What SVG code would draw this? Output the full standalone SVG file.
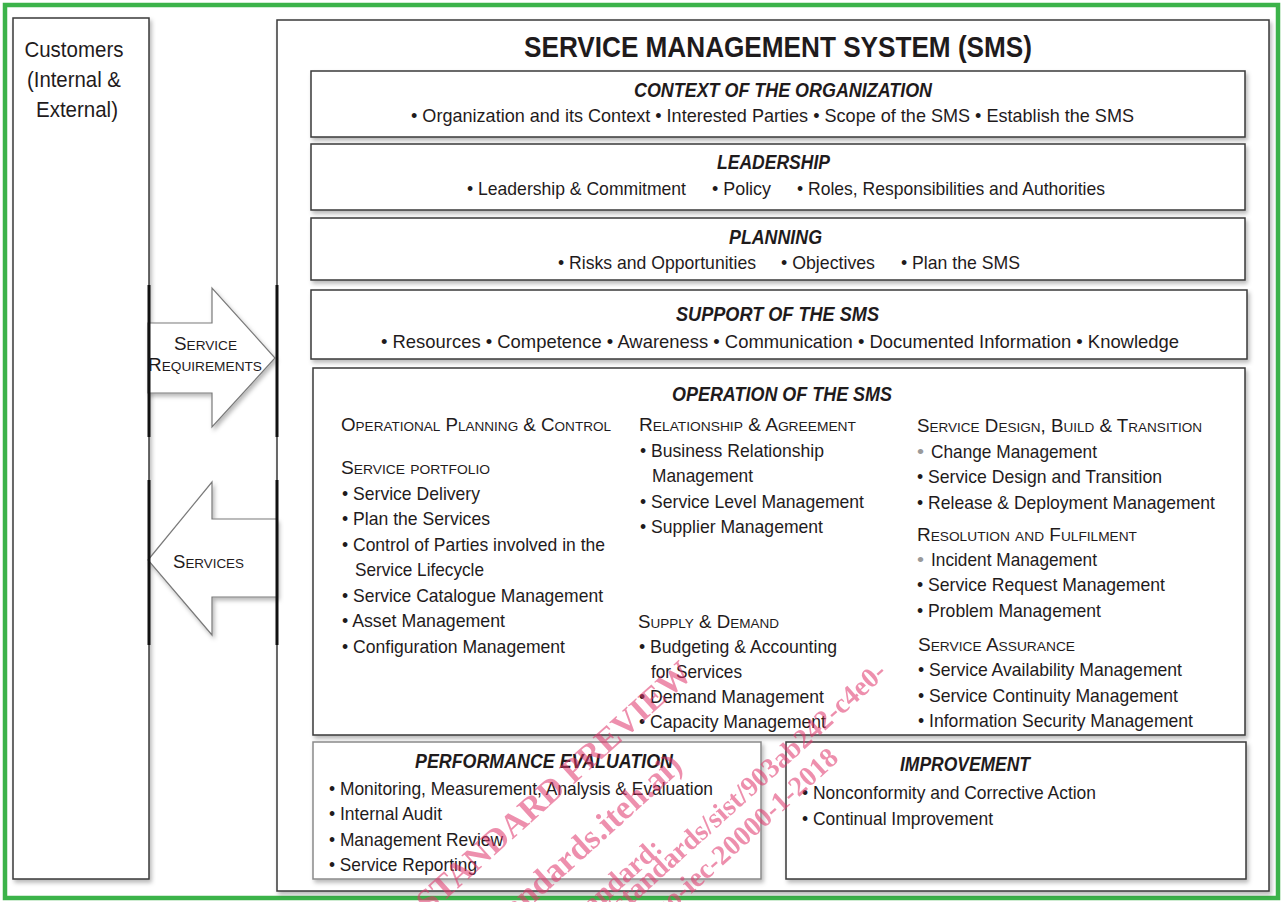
<svg xmlns="http://www.w3.org/2000/svg" width="1284" height="902" viewBox="0 0 1284 902">
  <defs>
    <filter id="sh" x="-5%" y="-5%" width="110%" height="115%">
      <feDropShadow dx="2" dy="3" stdDeviation="2" flood-color="#000" flood-opacity="0.28"/>
    </filter>
    <style>
      .t { font-family: "Liberation Sans", Arial, sans-serif; fill: #1f1b1c; }
      .b { font-size: 19px; }
      .hd { font-weight: bold; font-style: italic; font-size: 20px; }
      .sc { font-variant: small-caps; font-size: 18px; }
      .box { fill: #fff; stroke: #3a3a3a; stroke-width: 1.5; filter: url(#sh); }
      .box2 { fill: #fff; stroke: #8a8a8a; stroke-width: 1.5; filter: url(#sh); }
      .arrow { fill: #fff; stroke: #7a7a7a; stroke-width: 1.2; filter: url(#sh); }
      .bar { stroke: #111; stroke-width: 3; }
      .gb { fill: #9a9a9a; }
      .wm { font-family: "Liberation Serif", "Times New Roman", serif; font-weight: bold; font-size: 28px; fill: #e0356b; }
      .wm1 { font-size: 34px; }
    </style>
  </defs>

  <!-- outer frame -->
  <rect x="5" y="5" width="1273" height="893" fill="#fff" stroke="#3cb34a" stroke-width="4.5"/>

  <!-- customers -->
  <g id="customers">
    <rect class="box" x="13" y="18" width="136" height="861"/>
    <text class="t" font-size="22" text-anchor="middle">
      <tspan x="77" y="57" textLength="99" lengthAdjust="spacingAndGlyphs">Customers</tspan>
      <tspan x="77" y="87" textLength="94" lengthAdjust="spacingAndGlyphs">(Internal &amp;</tspan>
      <tspan x="77" y="117" textLength="82" lengthAdjust="spacingAndGlyphs">External)</tspan>
    </text>
  </g>

  <!-- service management system -->
  <g id="sms">
    <rect class="box" x="277" y="20" width="992" height="871"/>
    <text class="t" x="524" y="57" font-size="30" font-weight="bold" textLength="508" lengthAdjust="spacingAndGlyphs">SERVICE MANAGEMENT SYSTEM (SMS)</text>
  </g>

  <!-- flows between customers and SMS -->
  <g id="connectors">
    <polygon class="arrow" points="148,323 212,323 212,288 275,358 212,427 212,393 148,393"/>
    <polygon class="arrow" points="148,560 212,482 212,519 277,519 277,597 212,597 212,635"/>
    <line class="bar" x1="149" y1="285" x2="149" y2="437"/>
    <line class="bar" x1="149" y1="480" x2="149" y2="645"/>
    <line class="bar" x1="277" y1="285" x2="277" y2="437"/>
    <line class="bar" x1="277" y1="480" x2="277" y2="645"/>
    <text class="t sc" x="174" y="350" textLength="63" lengthAdjust="spacingAndGlyphs">Service</text>
    <text class="t sc" x="148" y="371" textLength="114" lengthAdjust="spacingAndGlyphs">Requirements</text>
    <text class="t sc" x="173" y="568" textLength="71" lengthAdjust="spacingAndGlyphs">Services</text>
  </g>

  <!-- context -->
  <g id="context">
    <rect class="box" x="311" y="71" width="934" height="66"/>
    <text class="t hd" x="634" y="97" textLength="298" lengthAdjust="spacingAndGlyphs">CONTEXT OF THE ORGANIZATION</text>
    <text class="t" font-size="19" x="411" y="122" textLength="723" lengthAdjust="spacingAndGlyphs">• Organization and its Context  • Interested Parties  • Scope of the SMS  • Establish the SMS</text>
  </g>

  <!-- leadership -->
  <g id="leadership">
    <rect class="box" x="311" y="144" width="934" height="66"/>
    <text class="t hd" x="717" y="169" textLength="113" lengthAdjust="spacingAndGlyphs">LEADERSHIP</text>
    <text class="t" font-size="19" x="467" y="195" textLength="219" lengthAdjust="spacingAndGlyphs">• Leadership &amp; Commitment</text>
    <text class="t" font-size="19" x="712" y="195" textLength="59" lengthAdjust="spacingAndGlyphs">• Policy</text>
    <text class="t" font-size="19" x="797" y="195" textLength="308" lengthAdjust="spacingAndGlyphs">• Roles, Responsibilities and Authorities</text>
  </g>

  <!-- planning -->
  <g id="planning">
    <rect class="box" x="311" y="218" width="934" height="62"/>
    <text class="t hd" x="729" y="244" textLength="93" lengthAdjust="spacingAndGlyphs">PLANNING</text>
    <text class="t" font-size="19" x="558" y="269" textLength="198" lengthAdjust="spacingAndGlyphs">• Risks and Opportunities</text>
    <text class="t" font-size="19" x="781" y="269" textLength="94" lengthAdjust="spacingAndGlyphs">• Objectives</text>
    <text class="t" font-size="19" x="901" y="269" textLength="119" lengthAdjust="spacingAndGlyphs">• Plan the SMS</text>
  </g>

  <!-- support -->
  <g id="support">
    <rect class="box" x="311" y="290" width="936" height="69"/>
    <text class="t hd" x="676" y="321" textLength="203" lengthAdjust="spacingAndGlyphs">SUPPORT OF THE SMS</text>
    <text class="t" font-size="19" x="381" y="348" textLength="798" lengthAdjust="spacingAndGlyphs">• Resources  • Competence  • Awareness  • Communication  • Documented Information  • Knowledge</text>
  </g>

  <!-- operation -->
  <g id="operation">
    <rect class="box" x="313" y="368" width="932" height="367"/>
    <text class="t hd" x="672" y="401" textLength="220" lengthAdjust="spacingAndGlyphs">OPERATION OF THE SMS</text>

    <!-- column 1 -->
    <text class="t sc" x="341" y="431" textLength="270" lengthAdjust="spacingAndGlyphs">Operational Planning &amp; Control</text>
    <text class="t sc" x="341" y="474" textLength="149" lengthAdjust="spacingAndGlyphs">Service portfolio</text>
    <text class="t b" x="342" y="500" textLength="138" lengthAdjust="spacingAndGlyphs">• Service Delivery</text>
    <text class="t b" x="342" y="525" textLength="148" lengthAdjust="spacingAndGlyphs">• Plan the Services</text>
    <text class="t b" x="342" y="551" textLength="263" lengthAdjust="spacingAndGlyphs">• Control of Parties involved in the</text>
    <text class="t b" x="355" y="576" textLength="129" lengthAdjust="spacingAndGlyphs">Service Lifecycle</text>
    <text class="t b" x="342" y="602" textLength="261" lengthAdjust="spacingAndGlyphs">• Service Catalogue Management</text>
    <text class="t b" x="342" y="627" textLength="163" lengthAdjust="spacingAndGlyphs">• Asset Management</text>
    <text class="t b" x="342" y="653" textLength="223" lengthAdjust="spacingAndGlyphs">• Configuration Management</text>

    <!-- column 2 -->
    <text class="t sc" x="639" y="431" textLength="217" lengthAdjust="spacingAndGlyphs">Relationship &amp; Agreement</text>
    <text class="t b" x="640" y="457" textLength="184" lengthAdjust="spacingAndGlyphs">• Business Relationship</text>
    <text class="t b" x="652" y="482" textLength="101" lengthAdjust="spacingAndGlyphs">Management</text>
    <text class="t b" x="640" y="508" textLength="224" lengthAdjust="spacingAndGlyphs">• Service Level Management</text>
    <text class="t b" x="640" y="533" textLength="183" lengthAdjust="spacingAndGlyphs">• Supplier Management</text>
    <text class="t sc" x="638" y="628" textLength="141" lengthAdjust="spacingAndGlyphs">Supply &amp; Demand</text>
    <text class="t b" x="639" y="653" textLength="198" lengthAdjust="spacingAndGlyphs">• Budgeting &amp; Accounting</text>
    <text class="t b" x="651" y="678" textLength="91" lengthAdjust="spacingAndGlyphs">for Services</text>
    <text class="t b" x="639" y="703" textLength="185" lengthAdjust="spacingAndGlyphs">• Demand Management</text>
    <text class="t b" x="639" y="728" textLength="187" lengthAdjust="spacingAndGlyphs">• Capacity Management</text>

    <!-- column 3 -->
    <text class="t sc" x="917" y="432" textLength="285" lengthAdjust="spacingAndGlyphs">Service Design, Build &amp; Transition</text>
    <text class="t b gb" x="917" y="458" textLength="7" lengthAdjust="spacingAndGlyphs">•</text>
    <text class="t b" x="931" y="458" textLength="166" lengthAdjust="spacingAndGlyphs">Change Management</text>
    <text class="t b" x="917" y="483" textLength="245" lengthAdjust="spacingAndGlyphs">• Service Design and Transition</text>
    <text class="t b" x="917" y="509" textLength="298" lengthAdjust="spacingAndGlyphs">• Release &amp; Deployment Management</text>
    <text class="t sc" x="917" y="541" textLength="220" lengthAdjust="spacingAndGlyphs">Resolution and Fulfilment</text>
    <text class="t b gb" x="917" y="566" textLength="7" lengthAdjust="spacingAndGlyphs">•</text>
    <text class="t b" x="931" y="566" textLength="166" lengthAdjust="spacingAndGlyphs">Incident Management</text>
    <text class="t b" x="917" y="591" textLength="248" lengthAdjust="spacingAndGlyphs">• Service Request Management</text>
    <text class="t b" x="917" y="617" textLength="184" lengthAdjust="spacingAndGlyphs">• Problem Management</text>
    <text class="t sc" x="918" y="651" textLength="157" lengthAdjust="spacingAndGlyphs">Service Assurance</text>
    <text class="t b" x="918" y="676" textLength="264" lengthAdjust="spacingAndGlyphs">• Service Availability Management</text>
    <text class="t b" x="918" y="702" textLength="260" lengthAdjust="spacingAndGlyphs">• Service Continuity Management</text>
    <text class="t b" x="918" y="727" textLength="275" lengthAdjust="spacingAndGlyphs">• Information Security Management</text>
  </g>

  <!-- performance evaluation -->
  <g id="performance">
    <rect class="box2" x="313" y="742" width="448" height="137"/>
    <text class="t hd" x="415" y="768" textLength="258" lengthAdjust="spacingAndGlyphs">PERFORMANCE  EVALUATION</text>
    <text class="t b" x="329" y="795" textLength="384" lengthAdjust="spacingAndGlyphs">• Monitoring, Measurement, Analysis &amp; Evaluation</text>
    <text class="t b" x="329" y="820" textLength="113" lengthAdjust="spacingAndGlyphs">• Internal Audit</text>
    <text class="t b" x="329" y="846" textLength="174" lengthAdjust="spacingAndGlyphs">• Management Review</text>
    <text class="t b" x="329" y="871" textLength="148" lengthAdjust="spacingAndGlyphs">• Service Reporting</text>
  </g>

  <!-- improvement -->
  <g id="improvement">
    <rect class="box" x="786" y="742" width="460" height="137"/>
    <text class="t hd" x="900" y="771" textLength="130" lengthAdjust="spacingAndGlyphs">IMPROVEMENT</text>
    <text class="t b" x="802" y="799" textLength="294" lengthAdjust="spacingAndGlyphs">• Nonconformity and Corrective Action</text>
    <text class="t b" x="802" y="825" textLength="191" lengthAdjust="spacingAndGlyphs">• Continual Improvement</text>
  </g>

  <!-- preview stamp -->
  <g id="stamp" opacity="0.55">
    <text class="wm wm1" text-anchor="end" transform="translate(694,676) rotate(-42)">STANDARD PREVIEW</text>
    <text class="wm wm1" text-anchor="end" transform="translate(684,768) rotate(-42)">(standards.iteh.ai)</text>
    <text class="wm" text-anchor="end" transform="translate(664,850) rotate(-42)">Full standard:</text>
    <text class="wm" text-anchor="end" transform="translate(888,674) rotate(-42)">https://standards.iteh.ai/catalog/standards/sist/903ab242-c4e0-</text>
    <text class="wm" text-anchor="end" transform="translate(840,760) rotate(-42)">iso-iec-20000-1-2018</text>
  </g>
</svg>
